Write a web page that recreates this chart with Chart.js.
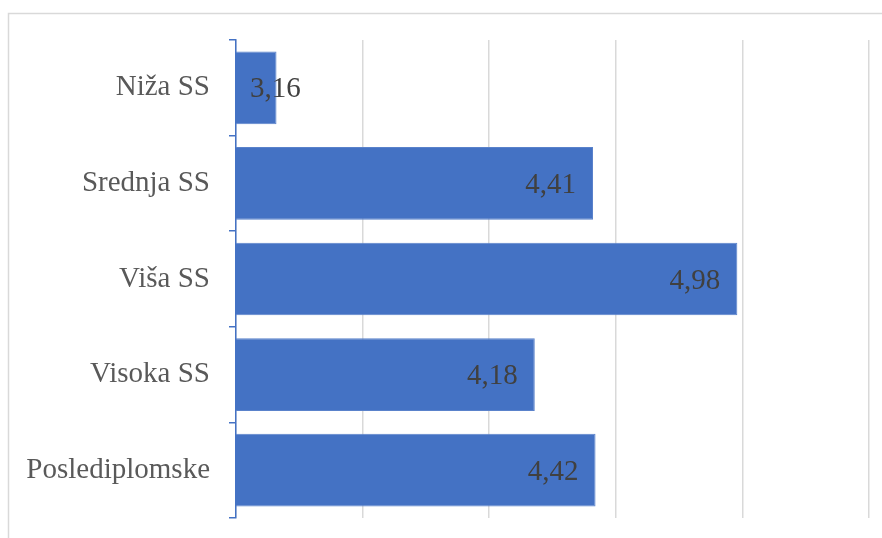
<!DOCTYPE html>
<html>
<head>
<meta charset="utf-8">
<script src="https://cdn.jsdelivr.net/npm/chart.js@4"></script>
<style>
  html, body { margin: 0; padding: 0; background: #fff; }
  #wrap { width: 882px; height: 538px; }
</style>
</head>
<body>
<div id="wrap"><canvas id="chart"></canvas></div>
<script>
const categories = ['Niža SS', 'Srednja SS', 'Viša SS', 'Visoka SS', 'Poslediplomske'];
const values = [3.16, 4.41, 4.98, 4.18, 4.42];

// frame line like the office chart border
const framePlugin = {
    id: 'frame',
    beforeDraw(chart) {
        const ctx = chart.ctx;
        ctx.save();
        ctx.strokeStyle = '#d9d9d9';
        ctx.lineWidth = 1.5;
        ctx.strokeRect(8.5, 13.5, 1000, 1000);
        ctx.restore();
    }
};

// value labels at the inside end of each bar
const labelPlugin = {
    id: 'barLabels',
    afterDatasetsDraw(chart) {
        const ctx = chart.ctx;
        const meta = chart.getDatasetMeta(0);
        const left = chart.chartArea.left;
        ctx.save();
        ctx.font = '29px "Liberation Serif", "Times New Roman", serif';
        ctx.fillStyle = '#404040';
        ctx.textBaseline = 'middle';
        ctx.textAlign = 'left';
        meta.data.forEach((bar, i) => {
            const text = values[i].toFixed(2).replace('.', ',');
            const w = ctx.measureText(text).width;
            let x = bar.x - 17 - w;
            if (x < left + 14) x = left + 14;
            ctx.fillText(text, x, bar.y + 2);
        });
        ctx.restore();
    }
};

new Chart(document.getElementById('chart').getContext('2d'), {
    type: 'bar',
    data: {
        labels: categories,
        datasets: [{
            data: values,
            backgroundColor: '#4472c4',
            borderColor: '#5a82cb',
            borderWidth: 1,
            categoryPercentage: 1,
            barPercentage: 0.76
        }]
    },
    options: {
        indexAxis: 'y',
        responsive: true,
        maintainAspectRatio: false,
        animation: false,
        layout: { padding: { top: 40, bottom: 20, right: 13, left: 0 } },
        plugins: {
            legend: { display: false },
            tooltip: { enabled: false }
        },
        scales: {
            x: {
                min: 3,
                max: 5.5,
                afterFit(scale) { scale.height = 0; },
                ticks: { display: false, stepSize: 0.5 },
                border: { display: false },
                grid: { color: '#d9d9d9', lineWidth: 1.5, drawTicks: false }
            },
            y: {
                afterFit(scale) {
                    scale.width = 236;
                    scale.paddingTop = 0;
                    scale.paddingBottom = 0;
                },
                border: { color: '#4472c4', width: 1.5 },
                grid: {
                    drawOnChartArea: false,
                    color: '#4472c4',
                    lineWidth: 1.5,
                    tickLength: 7,
                    offset: true
                },
                ticks: {
                    color: '#595959',
                    padding: 19,
                    font: { family: '"Liberation Serif", "Times New Roman", serif', size: 29 }
                }
            }
        }
    },
    plugins: [framePlugin, labelPlugin]
});
</script>
</body>
</html>
